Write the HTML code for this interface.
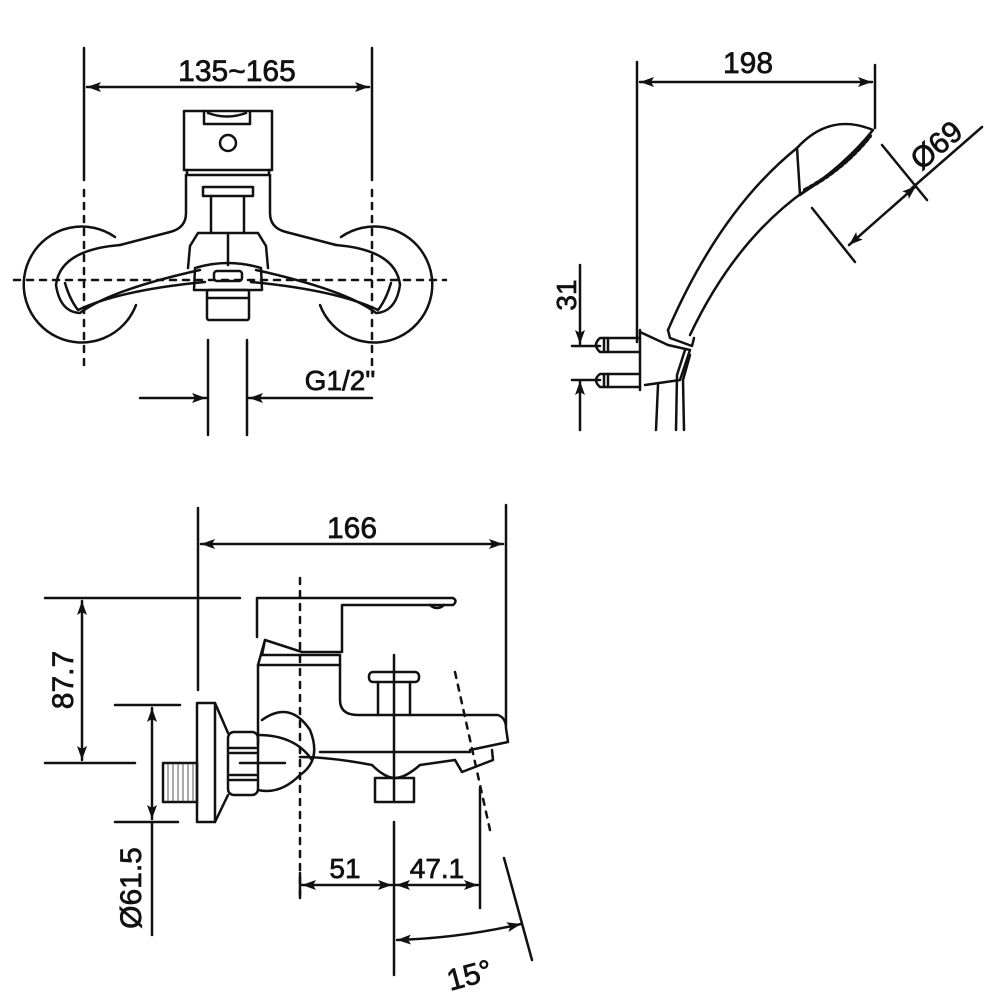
<!DOCTYPE html>
<html><head><meta charset="utf-8"><style>
html,body{margin:0;padding:0;background:#fff}
svg{display:block}
text{font-family:"Liberation Sans",Arial,sans-serif;fill:#111;stroke:#111;stroke-width:0.7}
</style></head><body>
<svg width="1000" height="1000" viewBox="0 0 1000 1000" xmlns="http://www.w3.org/2000/svg">
<defs>
<marker id="a" viewBox="0 0 14 10" refX="14" refY="5" markerWidth="14" markerHeight="10" orient="auto-start-reverse" markerUnits="userSpaceOnUse"><path d="M0,0 L14,5 L0,10 L3,5 z" fill="#111"/></marker>
</defs>
<g stroke="#111" stroke-width="2.5" fill="none" stroke-linecap="round" stroke-linejoin="round">
<!-- ===== TOP-LEFT VIEW ===== -->
<line x1="84" y1="48" x2="84" y2="180"/>
<line x1="372" y1="48" x2="372" y2="180"/>
<line x1="87" y1="87" x2="369" y2="87" marker-start="url(#a)" marker-end="url(#a)"/>
<g stroke-dasharray="6 7">
<line x1="84" y1="190" x2="84" y2="365"/>
<line x1="372" y1="190" x2="372" y2="365"/>
<line x1="14" y1="280" x2="446" y2="280"/>
</g>
<rect x="184" y="111" width="88" height="59"/>
<path d="M204,111 V124 H250 V111"/>
<path d="M208,113 Q227,120 246,113"/>
<circle cx="228" cy="143" r="8"/>
<line x1="187" y1="170" x2="187" y2="175"/><line x1="269" y1="170" x2="269" y2="175"/>
<line x1="186" y1="175" x2="270" y2="175"/>
<path d="M186,175 V213 Q186,228 170,232 L120,245"/>
<path d="M270,175 V213 Q270,228 286,232 L336,245"/>
<rect x="203" y="187" width="50" height="9"/>
<line x1="211" y1="196" x2="211" y2="233"/><line x1="244" y1="196" x2="244" y2="233"/>
<path d="M198,233 H258 L266,246 L268,268 M198,233 L190,246 L188,268"/>
<line x1="228" y1="233" x2="228" y2="265"/>
<path d="M115,237 A58,58 0 1 0 136,305"/>
<path d="M341,237 A58,58 0 1 1 320,305"/>
<path d="M120,245 Q60,250 56,285 Q60,312 80,313 Q110,290 200,270"/>
<path d="M336,245 Q396,250 400,285 Q396,312 376,313 Q346,290 256,270"/>
<path d="M65,283 Q70,300 78,310 Q120,290 205,282"/>
<path d="M391,283 Q386,300 378,310 Q336,290 251,282"/>
<path d="M195,268 Q228,258 261,268 L262,290 H194 Z"/>
<rect x="214" y="271" width="28" height="10" rx="3"/>
<rect x="207" y="290" width="42" height="30" rx="2"/>
<line x1="207" y1="298" x2="249" y2="298"/>
<line x1="208" y1="340" x2="208" y2="435"/>
<line x1="247" y1="340" x2="247" y2="435"/>
<line x1="140" y1="398" x2="206" y2="398" marker-end="url(#a)"/>
<line x1="372" y1="398" x2="249" y2="398" marker-end="url(#a)"/>

<!-- ===== TOP-RIGHT VIEW ===== -->
<line x1="637" y1="62" x2="637" y2="342"/>
<line x1="875" y1="65" x2="875" y2="128"/>
<line x1="640" y1="82" x2="872" y2="82" marker-start="url(#a)" marker-end="url(#a)"/>
<!-- shower head -->
<path d="M800,195 L797,148 Q830,112 873,130 Q845,165 800,195"/>
<path d="M805,190 Q845,168 870,136" stroke-width="4" stroke-dasharray="3 3"/>
<path d="M797,148 Q720,210 668,330"/>
<path d="M806,190 Q735,240 690,335"/>
<path d="M668,330 L670,338 L692,346 L694,338"/>
<!-- bracket -->
<line x1="640" y1="330" x2="640" y2="390"/>
<path d="M640,332 L668,345 L690,350 L680,380 L645,385"/>
<path d="M685,350 L677,375 L676,430 M690,355 L683,380 L684,430"/>
<line x1="658" y1="385" x2="656" y2="430"/>
<path d="M640,338 H600 Q592,345 600,352 H640"/>
<path d="M640,374 H600 Q592,380 600,387 H640"/>
<line x1="604" y1="338" x2="604" y2="352"/><line x1="608" y1="338" x2="608" y2="352"/>
<line x1="604" y1="374" x2="604" y2="387"/><line x1="608" y1="374" x2="608" y2="387"/>
<line x1="580" y1="265" x2="580" y2="344" marker-end="url(#a)"/>
<line x1="580" y1="430" x2="580" y2="381" marker-end="url(#a)"/>
<line x1="572" y1="346" x2="600" y2="346"/>
<line x1="572" y1="380" x2="600" y2="380"/>
<line x1="912" y1="188" x2="982" y2="127"/>
<line x1="882" y1="145" x2="927" y2="200"/>
<line x1="812" y1="208" x2="855" y2="262"/>
<line x1="849" y1="245" x2="916" y2="186" marker-start="url(#a)" marker-end="url(#a)"/>

<!-- ===== BOTTOM VIEW ===== -->
<line x1="198" y1="508" x2="198" y2="690"/>
<line x1="506" y1="505" x2="506" y2="725"/>
<line x1="201" y1="544" x2="503" y2="544" marker-start="url(#a)" marker-end="url(#a)"/>
<line x1="45" y1="598" x2="240" y2="598"/>
<line x1="45" y1="763" x2="135" y2="763"/>
<line x1="82" y1="601" x2="82" y2="760" marker-start="url(#a)" marker-end="url(#a)"/>
<line x1="115" y1="705" x2="180" y2="705"/>
<line x1="115" y1="822" x2="178" y2="822"/>
<line x1="152" y1="708" x2="152" y2="819" marker-start="url(#a)" marker-end="url(#a)"/>
<line x1="152" y1="822" x2="152" y2="935"/>
<line x1="300" y1="578" x2="300" y2="895" stroke-dasharray="6 7"/>
<path d="M257,637 V598 H453 Q458,601 453,605 H342 V652 H302 L265,640"/>
<path d="M430,605 Q437,611 444,605"/>
<path d="M265,640 L262,655 H340 V665 H258 Z"/>
<path d="M258,665 V745 M340,665 V700 Q340,715 358,715 H498 Q506,718 506,728 L508,742 L470,750"/>
<path d="M320,752 H470"/>
<path d="M300,757 Q330,757 372,765 Q385,778 395,778 Q405,778 420,765 L455,760"/>
<path d="M455,760 L462,772 L493,760 L492,750"/>
<path d="M262,720 Q290,700 310,730 Q322,760 300,775 Q280,795 258,790"/>
<path d="M258,735 Q295,735 312,760"/>
<rect x="228" y="732" width="30" height="63" rx="6"/>
<line x1="230" y1="748" x2="256" y2="748"/><line x1="230" y1="780" x2="256" y2="780"/>
<line x1="230" y1="753" x2="256" y2="753"/><line x1="230" y1="775" x2="256" y2="775"/>
<rect x="197" y="703" width="18" height="119"/>
<path d="M215,703 L228,733 M215,822 L228,795"/>
<rect x="163" y="763" width="34" height="39"/>
<g stroke-width="1" stroke="#555"><line x1="168" y1="764" x2="168" y2="801"/><line x1="173" y1="764" x2="173" y2="801"/><line x1="178" y1="764" x2="178" y2="801"/><line x1="183" y1="764" x2="183" y2="801"/><line x1="188" y1="764" x2="188" y2="801"/><line x1="193" y1="764" x2="193" y2="801"/></g>
<line x1="240" y1="763" x2="285" y2="763"/>
<rect x="369" y="672" width="50" height="10" rx="4"/>
<line x1="378" y1="682" x2="378" y2="715"/><line x1="410" y1="682" x2="410" y2="715"/>
<line x1="394" y1="655" x2="394" y2="800"/>
<rect x="375" y="778" width="39" height="24"/>
<line x1="394" y1="822" x2="394" y2="975"/>
<line x1="300" y1="873" x2="300" y2="898"/>
<line x1="480" y1="788" x2="480" y2="908"/>
<line x1="302" y1="885" x2="392" y2="885" marker-start="url(#a)" marker-end="url(#a)"/>
<line x1="396" y1="885" x2="478" y2="885" marker-start="url(#a)" marker-end="url(#a)"/>
<path d="M455,672 L490,830" stroke-dasharray="6 7"/>
<line x1="504" y1="858" x2="532" y2="960"/>
<path d="M397,940 Q460,938 521,924" marker-start="url(#a)" marker-end="url(#a)"/>
</g>
<text x="237" y="81" font-size="30" text-anchor="middle">135~165</text>
<text x="340" y="390" font-size="28" text-anchor="middle">G1/2"</text>
<text x="748" y="73" font-size="30" text-anchor="middle">198</text>
<text transform="translate(576,295) rotate(-90)" font-size="28" text-anchor="middle">31</text>
<text transform="translate(943,153) rotate(-40)" font-size="30" text-anchor="middle">Ø69</text>
<text x="352" y="538" font-size="30" text-anchor="middle">166</text>
<text transform="translate(73,680) rotate(-90)" font-size="30" text-anchor="middle">87.7</text>
<text transform="translate(141,888) rotate(-90)" font-size="30" text-anchor="middle">Ø61.5</text>
<text x="345" y="878" font-size="28" text-anchor="middle">51</text>
<text x="437" y="878" font-size="28" text-anchor="middle">47.1</text>
<text transform="translate(472,985) rotate(-15)" font-size="30" text-anchor="middle">15°</text>
</svg>
</body></html>
